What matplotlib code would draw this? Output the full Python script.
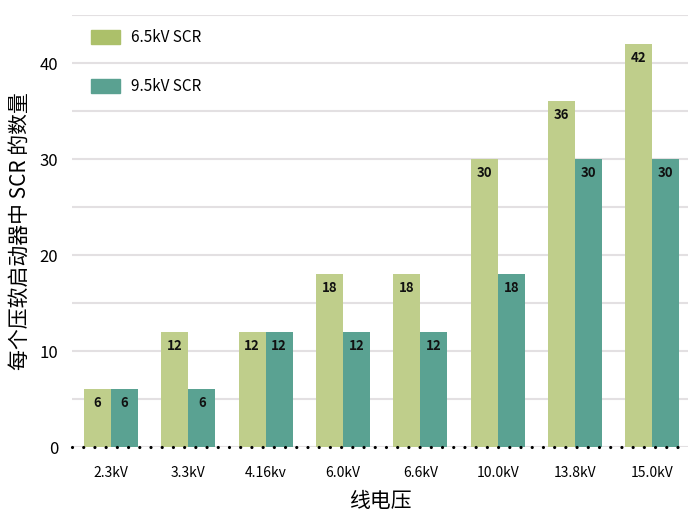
import numpy as np
import matplotlib as mpl
mpl.use('Agg')
import matplotlib.pyplot as plt
from matplotlib.patches import Patch

plt.rcParams['font.family'] = ['Noto Sans CJK SC', 'DejaVu Sans']

# data
voltages = ["2.3kV", "3.3kV", "4.16kv", "6.0kV", "6.6kV", "10.0kV", "13.8kV", "15.0kV"]
scr_65 = [6, 12, 12, 18, 18, 30, 36, 42]
scr_95 = [6, 6, 12, 12, 12, 18, 30, 30]
series_names = ["6.5kV SCR", "9.5kV SCR"]

bar_colors = ["#bfce8b", "#5aa292"]
legend_colors = ["#acc06a", "#5aa191"]

fig = plt.figure(figsize=(6.88, 5.16), dpi=100)
ax = fig.add_axes([0.105, 0.1337, 0.895, 0.837])

x = np.arange(len(voltages))
w = 0.35
b1 = ax.bar(x - w / 2, scr_65, w, color=bar_colors[0], zorder=2)
b2 = ax.bar(x + w / 2, scr_95, w, color=bar_colors[1], zorder=2)

for bars in (b1, b2):
    for r in bars:
        ax.text(r.get_x() + r.get_width() / 2, r.get_height() - 0.7,
                f"{int(r.get_height())}", ha='center', va='top',
                fontsize=9.5, fontweight='bold', color='#111111', zorder=3)

ax.set_xlim(-0.5, 7.46)
ax.set_ylim(0, 45)
ax.set_yticks([0, 10, 20, 30, 40])
ax.set_yticks(np.arange(0, 46, 5), minor=True)
ax.grid(axis='y', which='both', color='#e3e0e2', linewidth=1.5, zorder=0)
ax.set_xticks(x)
ax.set_xticklabels(voltages, fontsize=10)
ax.tick_params(axis='y', labelsize=12, length=0, pad=10)
ax.tick_params(axis='x', length=0, pad=14)
ax.tick_params(which='minor', length=0)
for s in ax.spines.values():
    s.set_visible(False)

# dotted baseline
ax.axhline(0, color='black', linestyle=(0, (0.01, 3.5)), linewidth=2.3,
           dash_capstyle='round', zorder=4, clip_on=False)

ax.set_xlabel("线电压", fontsize=15, fontweight='medium', labelpad=7)
ax.set_ylabel("每个压软启动器中 SCR 的数量", fontsize=15, fontweight='medium', labelpad=6)

handles = [Patch(color=c) for c in legend_colors]
ax.legend(handles, series_names, loc='upper left', bbox_to_anchor=(0.008, 1.0),
          frameon=False, fontsize=11, handlelength=1.9, handleheight=1.05,
          labelspacing=2.1, handletextpad=0.7)

plt.savefig("out.png", dpi=100)
plt.close()
